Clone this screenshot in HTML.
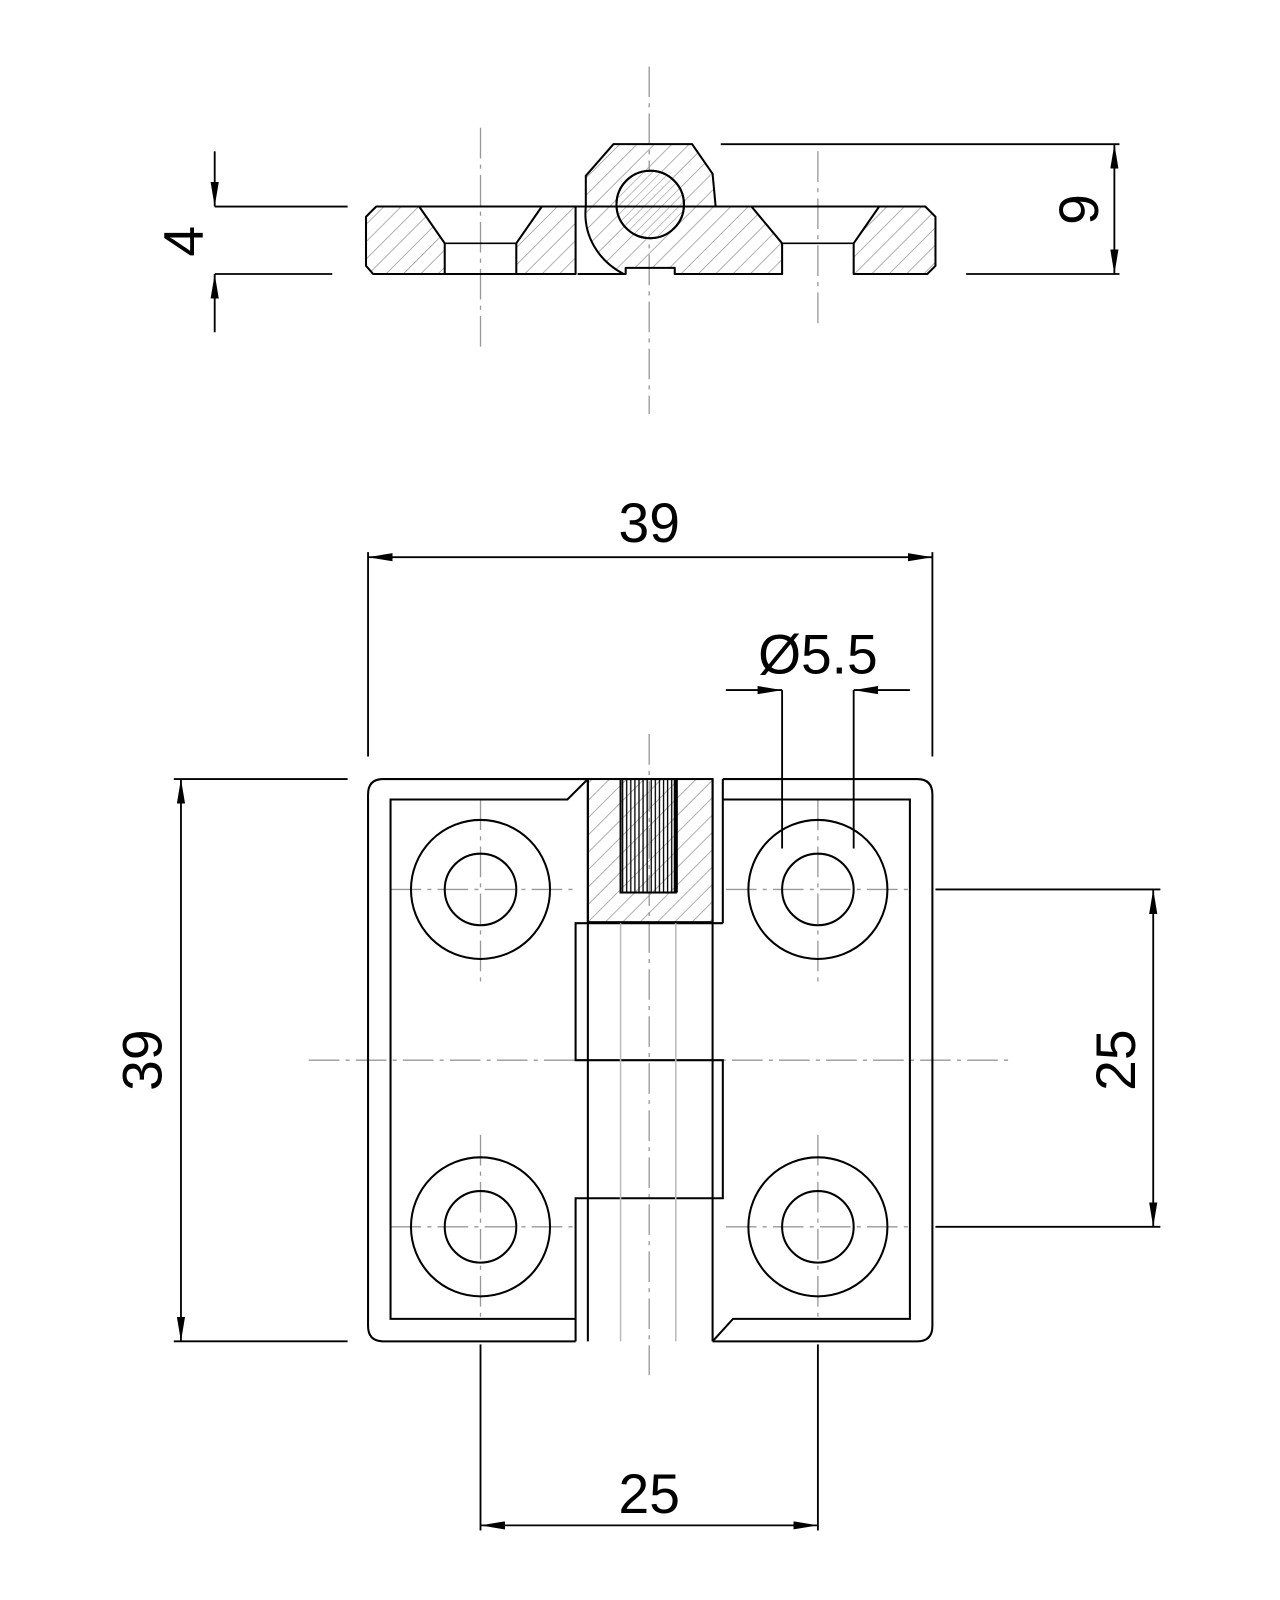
<!DOCTYPE html>
<html><head><meta charset="utf-8"><style>html,body{margin:0;padding:0;background:#fff}svg{display:block}</style></head><body>
<svg width="1280" height="1600" viewBox="0 0 1252 1565" xmlns="http://www.w3.org/2000/svg">
<defs>
<pattern id="h" width="12" height="12" patternUnits="userSpaceOnUse" patternTransform="rotate(45)">
<line x1="0" y1="0" x2="0" y2="12" stroke="#999" stroke-width="1.5"/></pattern>
<pattern id="hf" width="6" height="6" patternUnits="userSpaceOnUse" patternTransform="rotate(45)">
<line x1="0" y1="0" x2="0" y2="6" stroke="#999" stroke-width="1.2"/></pattern>
<pattern id="k" width="4" height="10" patternUnits="userSpaceOnUse">
<line x1="1" y1="0" x2="1" y2="10" stroke="#000" stroke-width="1.3"/></pattern>
<marker id="a" viewBox="0 0 24 8" refX="24" refY="4" markerWidth="24" markerHeight="8" markerUnits="userSpaceOnUse" orient="auto-start-reverse"><path d="M0,0 L24,4 L0,8 z" fill="#000"/></marker>
</defs>
<g fill="none" stroke="#999" stroke-width="1.3" stroke-dasharray="30,6,4,6">
<line x1="635" y1="65" x2="635" y2="405"/>
<line x1="470" y1="125" x2="470" y2="345"/>
<line x1="800" y1="148" x2="800" y2="322"/>
<line x1="635" y1="718" x2="635" y2="1345"/>
<line x1="302" y1="1037" x2="990" y2="1037"/>
<line x1="382" y1="870" x2="560" y2="870"/><line x1="470" y1="782" x2="470" y2="962"/>
<line x1="710" y1="870" x2="890" y2="870"/><line x1="800" y1="782" x2="800" y2="962"/>
<line x1="382" y1="1200" x2="560" y2="1200"/><line x1="470" y1="1110" x2="470" y2="1290"/>
<line x1="710" y1="1200" x2="890" y2="1200"/><line x1="800" y1="1110" x2="800" y2="1290"/>
</g>
<!-- side view -->
<g stroke="#000" stroke-width="2" stroke-linejoin="round">
<polygon fill="url(#h)" points="358,212 368,202 410,202 435,238 435,268 365,268 358,260"/>
<polygon fill="url(#h)" points="505,268 505,238 530,202 563,202 563,268"/>
<path fill="url(#h)" d="M573,202 L573,172 L600,141 L677,141 L697,170 L700,202 L735,202 L765,238 L765,268 L660,268 L660,262 L612,262 L612,268 L610,268 C585,255 570,230 573,202 Z"/>
<polygon fill="url(#h)" points="835,268 835,238 860,202 905,202 915,212 915,260 907,268 835,268"/>
<circle cx="636" cy="200" r="33" fill="#fff"/>
<circle cx="636" cy="200" r="33" fill="url(#hf)"/>
<line x1="435" y1="238" x2="505" y2="238" stroke-width="1.5"/>
<line x1="765" y1="238" x2="835" y2="238" stroke-width="1.5"/>
<line x1="435" y1="268" x2="505" y2="268"/>
<line x1="565" y1="268" x2="612" y2="268"/>
<line x1="368" y1="202" x2="905" y2="202"/>
</g>
<!-- front view -->
<g fill="none" stroke="#000" stroke-width="2">
<path d="M575,762 L375,762 Q360,762 360,777 L360,1297 Q360,1312 375,1312 L563,1312"/>
<path d="M707,762 L897,762 Q912,762 912,777 L912,1297 Q912,1312 897,1312 L697,1312"/>
<path d="M563,1290 L382,1290 L382,782 L555,782 L575,762"/>
<path d="M707,782 L890,782 L890,1290 L717,1290 L697,1312"/>
<rect x="575" y="762" width="122" height="140" fill="url(#h)"/>
<rect x="607" y="762" width="54" height="111" fill="url(#k)" stroke-width="2"/>
<line x1="661" y1="762" x2="661" y2="873" stroke-width="4"/>
<line x1="707" y1="762" x2="707" y2="903"/>
<path d="M707,903 L563,903 L563,1037 L575,1037"/>
<path d="M575,1037 L707,1037 L707,1172 L563,1172 L563,1312"/>
<line x1="575" y1="762" x2="575" y2="1312"/>
<line x1="697" y1="762" x2="697" y2="1312"/>
<circle cx="470" cy="870" r="68"/><circle cx="470" cy="870" r="35"/>
<circle cx="800" cy="870" r="68"/><circle cx="800" cy="870" r="35"/>
<circle cx="470" cy="1200" r="68"/><circle cx="470" cy="1200" r="35"/>
<circle cx="800" cy="1200" r="68"/><circle cx="800" cy="1200" r="35"/>
</g>
<g stroke="#bbb" stroke-width="1.5"><line x1="607" y1="903" x2="607" y2="1312"/><line x1="661" y1="903" x2="661" y2="1312"/></g>
<!-- dimensions -->
<g stroke="#000" stroke-width="1.8" fill="none">
<line x1="210" y1="202" x2="340" y2="202"/><line x1="210" y1="268" x2="325" y2="268"/>
<line x1="210" y1="148" x2="210" y2="202" marker-end="url(#a)"/>
<line x1="210" y1="325" x2="210" y2="268" marker-end="url(#a)"/>
<line x1="705" y1="141" x2="1095" y2="141"/><line x1="945" y1="268" x2="1095" y2="268"/>
<line x1="1090" y1="141" x2="1090" y2="268" marker-start="url(#a)" marker-end="url(#a)"/>
<line x1="360" y1="540" x2="360" y2="740"/><line x1="912" y1="540" x2="912" y2="740"/>
<line x1="360" y1="545" x2="912" y2="545" marker-start="url(#a)" marker-end="url(#a)"/>
<line x1="765" y1="675" x2="765" y2="830"/><line x1="835" y1="675" x2="835" y2="830"/>
<line x1="710" y1="675" x2="765" y2="675" marker-end="url(#a)"/>
<line x1="890" y1="675" x2="835" y2="675" marker-end="url(#a)"/>
<line x1="170" y1="762" x2="340" y2="762"/><line x1="170" y1="1312" x2="340" y2="1312"/>
<line x1="177" y1="762" x2="177" y2="1312" marker-start="url(#a)" marker-end="url(#a)"/>
<line x1="915" y1="870" x2="1135" y2="870"/><line x1="915" y1="1200" x2="1135" y2="1200"/>
<line x1="1128" y1="870" x2="1128" y2="1200" marker-start="url(#a)" marker-end="url(#a)"/>
<line x1="470" y1="1315" x2="470" y2="1497"/><line x1="800" y1="1315" x2="800" y2="1497"/>
<line x1="470" y1="1492" x2="800" y2="1492" marker-start="url(#a)" marker-end="url(#a)"/>
</g>
<g font-family="Liberation Sans, sans-serif" font-size="54" fill="#000" text-anchor="middle">
<text x="635" y="530">39</text>
<text x="800" y="659">Ø5.5</text>
<text x="635" y="1480">25</text>
<text transform="translate(158,1037) rotate(-90)">39</text>
<text transform="translate(1110,1037) rotate(-90)">25</text>
<text transform="translate(198,236) rotate(-90)">4</text>
<text transform="translate(1074,205) rotate(-90)">9</text>
</g>
</svg>
</body></html>
